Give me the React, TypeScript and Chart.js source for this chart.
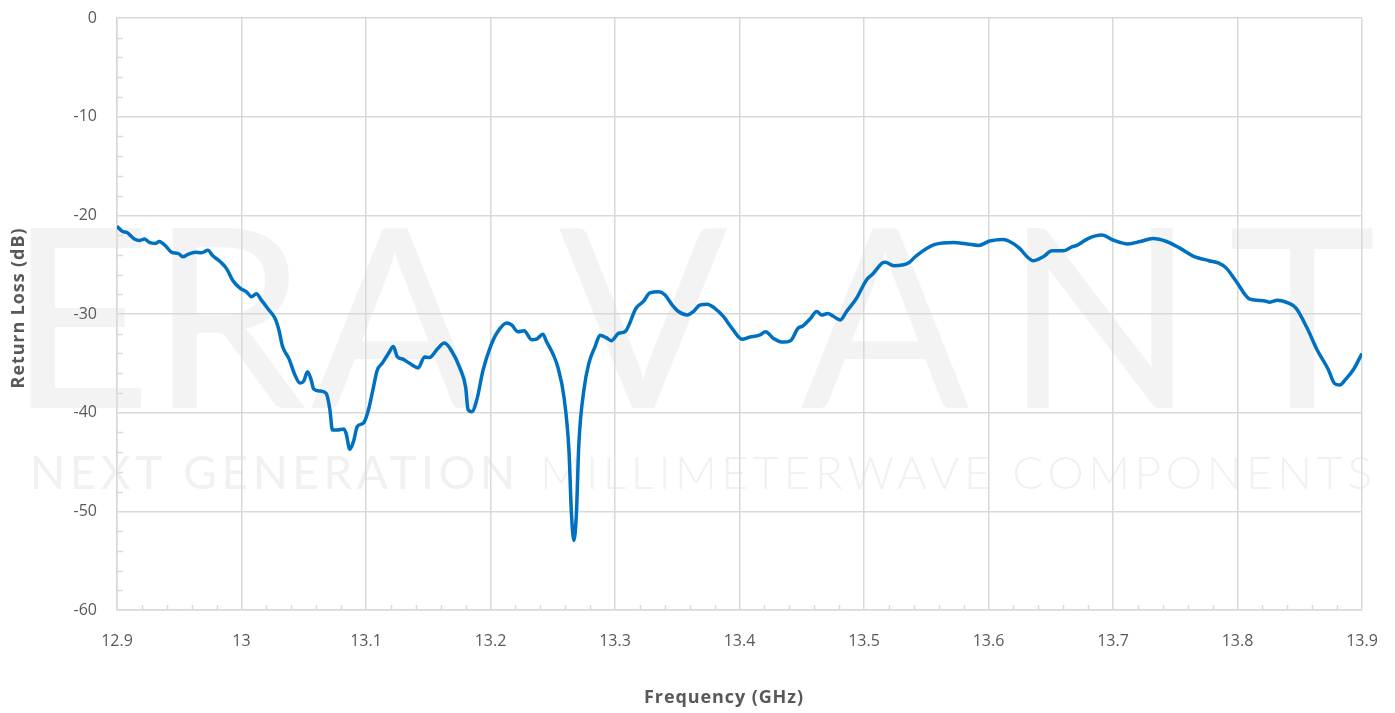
import React, { useEffect, useRef } from "react";
import { Chart, registerables } from "chart.js";

Chart.register(...registerables);

const frequencyGHz = [
  12.9, 12.904, 12.908, 12.914, 12.918, 12.922, 12.926, 12.931, 12.934, 12.939,
  12.944, 12.949, 12.953, 12.957, 12.963, 12.968, 12.973, 12.977, 12.983, 12.988,
  12.993, 12.999, 13.004, 13.008, 13.012, 13.016, 13.022, 13.027, 13.03, 13.033,
  13.038, 13.043, 13.047, 13.05, 13.053, 13.056, 13.058, 13.063, 13.068, 13.071,
  13.073, 13.077, 13.082, 13.084, 13.087, 13.09, 13.093, 13.098, 13.102, 13.106,
  13.109, 13.113, 13.118, 13.122, 13.125, 13.13, 13.135, 13.142, 13.147, 13.151,
  13.157, 13.163, 13.169, 13.175, 13.18, 13.182, 13.185, 13.189, 13.194, 13.2,
  13.205, 13.213, 13.217, 13.222, 13.227, 13.233, 13.237, 13.242, 13.245, 13.25,
  13.254, 13.259, 13.263, 13.265, 13.267, 13.269, 13.271, 13.275, 13.279, 13.284,
  13.288, 13.293, 13.297, 13.303, 13.308, 13.317, 13.323, 13.328, 13.335, 13.34,
  13.346, 13.351, 13.358, 13.363, 13.368, 13.374, 13.38, 13.387, 13.394, 13.402,
  13.408, 13.416, 13.421, 13.427, 13.435, 13.441, 13.447, 13.451, 13.457, 13.462,
  13.466, 13.471, 13.475, 13.481, 13.486, 13.494, 13.502, 13.507, 13.515, 13.517,
  13.524, 13.536, 13.542, 13.557, 13.572, 13.583, 13.592, 13.601, 13.612, 13.617,
  13.625, 13.631, 13.636, 13.644, 13.651, 13.66, 13.667, 13.671, 13.68, 13.691,
  13.7, 13.712, 13.722, 13.732, 13.743, 13.754, 13.764, 13.777, 13.785, 13.791,
  13.799, 13.81, 13.821, 13.826, 13.832, 13.841, 13.847, 13.856, 13.864, 13.873,
  13.878, 13.882, 13.887, 13.893, 13.9,
];

const returnLossDb = [
  -21.1, -21.6, -21.75, -22.4, -22.55, -22.4, -22.75, -22.85, -22.65, -23.1,
  -23.75, -23.85, -24.2, -23.95, -23.75, -23.8, -23.55, -24.1, -24.7, -25.4,
  -26.6, -27.4, -27.75, -28.25, -27.95, -28.6, -29.6, -30.45, -31.6, -33.3,
  -34.5, -36.2, -37.0, -36.8, -35.85, -36.7, -37.6, -37.8, -38.05, -39.7,
  -41.75, -41.75, -41.65, -42.1, -43.7, -42.9, -41.4, -41.05, -39.7, -37.4,
  -35.7, -35.0, -34.0, -33.3, -34.3, -34.6, -35.0, -35.45, -34.35, -34.4,
  -33.6, -32.95, -33.8, -35.35, -37.4, -39.7, -39.9, -38.7, -35.7, -33.3,
  -31.95, -30.9, -31.1, -31.8, -31.7, -32.6, -32.55, -32.05, -32.8, -34.0,
  -35.35, -38.4, -43.8, -50.2, -52.95, -50.2, -43.1, -37.7, -35.0, -33.3,
  -32.15, -32.4, -32.7, -31.95, -31.8, -29.4, -28.7, -27.85, -27.75, -28.05,
  -29.1, -29.75, -30.1, -29.75, -29.1, -29.0, -29.4, -30.25, -31.45, -32.55,
  -32.35, -32.15, -31.8, -32.45, -32.85, -32.7, -31.45, -31.2, -30.45, -29.75,
  -30.1, -29.95, -30.2, -30.6, -29.75, -28.4, -26.55, -25.95, -24.8, -24.75,
  -25.1, -24.8, -24.1, -22.95, -22.75, -22.9, -23.05, -22.6, -22.45, -22.65,
  -23.35, -24.2, -24.6, -24.2, -23.6, -23.6, -23.2, -23.05, -22.35, -22.0,
  -22.5, -22.9, -22.65, -22.35, -22.65, -23.35, -24.1, -24.6, -24.85, -25.35,
  -26.7, -28.5, -28.65, -28.8, -28.6, -28.9, -29.4, -31.45, -33.65, -35.65,
  -37.05, -37.2, -36.6, -35.65, -34.0,
];

const xTicks = [12.9, 13.0, 13.1, 13.2, 13.3, 13.4, 13.5, 13.6, 13.7, 13.8, 13.9];
const xTickLabels = ["12.9", "13", "13.1", "13.2", "13.3", "13.4", "13.5", "13.6", "13.7", "13.8", "13.9"];
const yTicks = [0, -10, -20, -30, -40, -50, -60];
const yTickLabels = ["0", "-10", "-20", "-30", "-40", "-50", "-60"];

const xAxisTitle = "Frequency (GHz)";
const yAxisTitle = "Return Loss (dB)";
const watermarkLetters = ["E", "R", "A", "V", "A", "N", "T"];
const watermarkTagline = ["NEXT GENERATION", "MILLIMETERWAVE COMPONENTS"];

const GRID = "#d9d9d9";
const TEXT = "#595959";
const FONT = "'Open Sans', 'Liberation Sans', sans-serif";

const watermarkPlugin = {
  id: "watermark",
  beforeDraw(chart: any) {
    const ctx = chart.ctx as CanvasRenderingContext2D;
    ctx.save();
    ctx.fillStyle = "#f3f3f3";
    ctx.textAlign = "center";
    ctx.textBaseline = "alphabetic";
    ctx.font = `400 250px Lato, ${FONT}`;
    const centers = [80, 228, 395, 643, 885, 1100, 1302];
    watermarkLetters.forEach((ch, i) => ctx.fillText(ch, centers[i], 408));

    const spans = [
      [30, 515, "400"],
      [540, 1372, "300"],
    ];
    ctx.textAlign = "left";
    ctx.fillStyle = "#f1f1f1";
    watermarkTagline.forEach((txt, i) => {
      const [x0, x1, w] = spans[i] as [number, number, string];
      ctx.font = `${w} 46px Lato, ${FONT}`;
      (ctx as any).letterSpacing = "0px";
      const base = ctx.measureText(txt).width;
      const sp = (x1 - x0 - base) / (txt.length - 1);
      (ctx as any).letterSpacing = `${sp}px`;
      ctx.fillText(txt, x0, 489);
    });
    (ctx as any).letterSpacing = "0px";
    ctx.restore();
  },
};

const minorTicksPlugin = {
  id: "minorTicks",
  beforeDatasetsDraw(chart: any) {
    const ctx = chart.ctx as CanvasRenderingContext2D;
    const x = chart.scales.x;
    const y = chart.scales.y;
    const { left, bottom } = chart.chartArea;
    ctx.save();
    ctx.strokeStyle = GRID;
    ctx.lineWidth = 1.5;
    ctx.beginPath();
    for (let v = -58; v < 0; v += 2) {
      if (v % 10 === 0) continue;
      const py = Math.round(y.getPixelForValue(v)) + 0.5;
      ctx.moveTo(left, py);
      ctx.lineTo(left + 6, py);
    }
    for (let k = 1; k < 50; k++) {
      if (k % 5 === 0) continue;
      const px = Math.round(x.getPixelForValue(12.9 + k * 0.02)) + 0.5;
      ctx.moveTo(px, bottom);
      ctx.lineTo(px, bottom - 5);
    }
    ctx.stroke();
    ctx.restore();
  },
};

const titlesPlugin = {
  id: "axisTitles",
  afterDraw(chart: any) {
    const ctx = chart.ctx as CanvasRenderingContext2D;
    ctx.save();
    ctx.fillStyle = TEXT;
    ctx.font = `bold 18px ${FONT}`;
    (ctx as any).letterSpacing = "0.9px";
    ctx.textAlign = "center";
    ctx.textBaseline = "middle";
    ctx.fillText(xAxisTitle, 724, 698);
    ctx.translate(19, 308);
    ctx.rotate(-Math.PI / 2);
    ctx.fillText(yAxisTitle, 0, 0);
    ctx.restore();
  },
};

export default function App() {
  const canvasRef = useRef<HTMLCanvasElement | null>(null);

  useEffect(() => {
    document.body.style.margin = "0";
    const canvas = canvasRef.current;
    if (!canvas) return;
    const data = frequencyGHz.map((f, i) => ({ x: f, y: returnLossDb[i] }));
    const chart = new Chart(canvas, {
      type: "line",
      data: {
        datasets: [
          {
            label: "Return Loss",
            data,
            borderColor: "#0070c0",
            borderWidth: 3.5,
            pointRadius: 0,
            fill: false,
            cubicInterpolationMode: "monotone",
          },
        ],
      },
      options: {
        animation: false,
        responsive: true,
        maintainAspectRatio: false,
        layout: { padding: { top: 18, right: 33, left: 0, bottom: 0 } },
        plugins: { legend: { display: false }, tooltip: { enabled: false } },
        scales: {
          x: {
            type: "linear",
            min: 12.9,
            max: 13.9,
            afterBuildTicks: (scale: any) => {
              scale.ticks = xTicks.map((v) => ({ value: v }));
            },
            afterFit: (scale: any) => {
              scale.height = 103;
              scale.paddingLeft = 0;
              scale.paddingRight = 0;
            },
            ticks: {
              color: TEXT,
              font: { family: FONT, size: 16 },
              padding: 22,
              maxRotation: 0,
              autoSkip: false,
              callback: (_v: any, i: number) => xTickLabels[i],
            },
            grid: { color: GRID, lineWidth: 1.5, drawTicks: false },
            border: { color: GRID, width: 1.5 },
          },
          y: {
            type: "linear",
            min: -60,
            max: 0,
            afterBuildTicks: (scale: any) => {
              scale.ticks = yTicks.map((v) => ({ value: v }));
            },
            afterFit: (scale: any) => {
              scale.width = 117;
              scale.paddingTop = 0;
              scale.paddingBottom = 0;
            },
            ticks: {
              color: TEXT,
              font: { family: FONT, size: 16 },
              padding: 20,
              autoSkip: false,
              callback: (_v: any, i: number) => yTickLabels[i],
            },
            grid: { color: GRID, lineWidth: 1.5, drawTicks: false },
            border: { color: GRID, width: 1.5 },
          },
        },
      },
      plugins: [watermarkPlugin, minorTicksPlugin, titlesPlugin],
    } as any);
    return () => chart.destroy();
  }, []);

  return (
    <div style={{ width: 1395, height: 713, position: "relative" }}>
      <canvas ref={canvasRef} />
    </div>
  );
}
